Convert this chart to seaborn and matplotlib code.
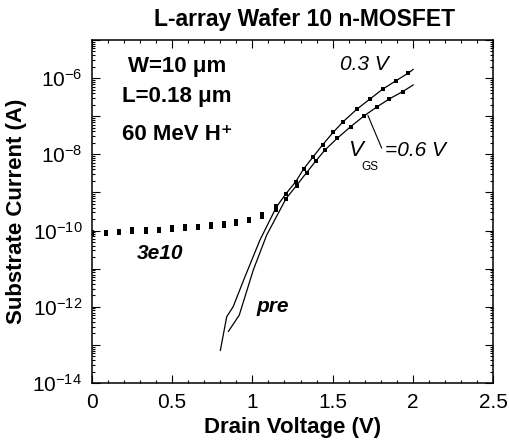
import numpy as np
import pandas as pd
import matplotlib
matplotlib.use("Agg")
import matplotlib.pyplot as plt
from matplotlib.ticker import LogLocator, MultipleLocator, FuncFormatter, NullFormatter
import seaborn as sns

# Drain voltage (V) and log10 of substrate current (A)
# after 3e10 cm^-2 exposure (markers)
post_03_v = [0.00, 0.085, 0.17, 0.25, 0.335, 0.42, 0.50, 0.58, 0.66, 0.74, 0.82, 0.90, 0.98,
             1.06, 1.15, 1.21, 1.27, 1.32, 1.376, 1.438, 1.504, 1.567, 1.65, 1.733, 1.812,
             1.895, 1.972]
post_03_log = [-10.04, -10.03, -10.00, -9.97, -9.97, -9.95, -9.92, -9.89, -9.87, -9.84, -9.81,
               -9.76, -9.70, -9.56, -9.36, -9.03, -8.72, -8.38, -8.08, -7.75, -7.42, -7.14,
               -6.82, -6.55, -6.29, -6.07, -5.87]
post_06_v = [0.00, 0.085, 0.17, 0.25, 0.335, 0.42, 0.50, 0.58, 0.66, 0.74, 0.82, 0.90, 0.98,
             1.06, 1.15, 1.21, 1.275, 1.338, 1.397, 1.453, 1.529, 1.613, 1.696, 1.779, 1.854,
             1.937]
post_06_log = [-10.10, -10.09, -10.06, -10.03, -10.03, -10.01, -9.98, -9.95, -9.93, -9.90, -9.87,
               -9.82, -9.76, -9.65, -9.47, -9.16, -8.82, -8.48, -8.165, -7.885, -7.578, -7.273,
               -6.992, -6.748, -6.546, -6.354]

# pre-irradiation curves (lines)
pre_03_v = [0.80, 0.84, 0.88, 0.954, 1.047, 1.15, 1.21, 1.27, 1.32, 1.376, 1.438, 1.504, 1.567,
            1.65, 1.733, 1.812, 1.895, 1.972, 2.003]
pre_03_log = [-13.15, -12.26, -12.00, -11.21, -10.25, -9.38, -9.03, -8.72, -8.38, -8.08, -7.75,
              -7.42, -7.14, -6.82, -6.55, -6.29, -6.07, -5.87, -5.77]
pre_06_v = [0.85, 0.918, 1.006, 1.089, 1.21, 1.275, 1.338, 1.397, 1.453, 1.529, 1.613, 1.696,
            1.779, 1.854, 1.937, 2.003]
pre_06_log = [-12.65, -12.22, -11.03, -10.12, -9.16, -8.82, -8.48, -8.165, -7.885, -7.578, -7.273,
              -6.992, -6.748, -6.546, -6.354, -6.18]

x_ticks = [0, 0.5, 1, 1.5, 2, 2.5]
x_tick_labels = ["0", "0.5", "1", "1.5", "2", "2.5"]

post_df = pd.concat([
    pd.DataFrame({"V": post_03_v, "I": 10.0 ** np.array(post_03_log), "vgs": "0.3"}),
    pd.DataFrame({"V": post_06_v, "I": 10.0 ** np.array(post_06_log), "vgs": "0.6"}),
])
pre_df = pd.concat([
    pd.DataFrame({"V": pre_03_v, "I": 10.0 ** np.array(pre_03_log), "vgs": "0.3"}),
    pd.DataFrame({"V": pre_06_v, "I": 10.0 ** np.array(pre_06_log), "vgs": "0.6"}),
])

sns.set_style("ticks")
plt.rcParams["font.family"] = ["Liberation Sans", "DejaVu Sans"]
plt.rcParams["mathtext.fontset"] = "custom"
plt.rcParams["mathtext.rm"] = "Liberation Sans"
plt.rcParams["mathtext.it"] = "Liberation Sans:italic"
plt.rcParams["mathtext.bf"] = "Liberation Sans:bold"
plt.rcParams["axes.unicode_minus"] = False
plt.rcParams["text.color"] = "black"
plt.rcParams["axes.labelcolor"] = "black"
plt.rcParams["xtick.color"] = "black"
plt.rcParams["ytick.color"] = "black"

fig = plt.figure(figsize=(5.09, 4.46), dpi=100)
ax = fig.add_axes([0.1807, 0.1413, 0.7879, 0.7691])

sns.lineplot(data=pre_df, x="V", y="I", units="vgs", estimator=None, sort=False,
             color="black", linewidth=0.9, ax=ax)
sns.scatterplot(data=post_df, x="V", y="I", color="black", marker="s", s=11,
                edgecolor="black", linewidth=0, ax=ax, zorder=3)

ax.set_yscale("log")
ax.set_xlim(0, 2.5)
ax.set_ylim(1e-14, 1e-5)

ax.set_xticks(x_ticks)
ax.set_xticklabels(x_tick_labels)
ax.xaxis.set_minor_locator(MultipleLocator(0.1))
ax.yaxis.set_major_locator(LogLocator(base=10, numticks=20))
ax.yaxis.set_minor_locator(LogLocator(base=10, subs=np.arange(2, 10), numticks=20))
ax.yaxis.set_minor_formatter(NullFormatter())


def decade_label(val, pos):
    e = int(round(np.log10(val)))
    return r"$10^{%d}$" % e if e % 2 == 0 else ""


ax.yaxis.set_major_formatter(FuncFormatter(decade_label))

ax.tick_params(which="both", direction="in", top=True, right=True, width=0.8, colors="black")
ax.tick_params(which="major", length=5.5, labelsize=15, pad=7)
ax.tick_params(which="minor", length=2.5)
for sp in ax.spines.values():
    sp.set_linewidth(1.1)
    sp.set_color("black")

ax.set_xlabel("Drain Voltage (V)", fontsize=16, fontweight="bold", labelpad=4)
ax.set_ylabel("Substrate Current (A)", fontsize=16, fontweight="bold", labelpad=4)
ax.set_title("L-array Wafer 10 n-MOSFET", fontsize=16.5, fontweight="bold", pad=10, x=0.531)

ax.text(0.090, 0.924, "W=10 μm", transform=ax.transAxes, fontsize=16, fontweight="bold",
        ha="left", va="center")
ax.text(0.075, 0.834, "L=0.18 μm", transform=ax.transAxes, fontsize=16, fontweight="bold",
        ha="left", va="center")
ax.text(0.075, 0.723, "60 MeV H⁺", transform=ax.transAxes, fontsize=16, fontweight="bold",
        ha="left", va="center")
ax.text(0.680, 0.929, "0.3 V", transform=ax.transAxes, fontsize=15, fontstyle="italic",
        ha="center", va="center")
ax.text(0.658, 0.679, "V", transform=ax.transAxes, fontsize=16, fontstyle="italic",
        ha="center", va="center")
ax.text(0.693, 0.631, "GS", transform=ax.transAxes, fontsize=8.5,
        ha="center", va="center")
ax.text(0.731, 0.678, "=0.6 V", transform=ax.transAxes, fontsize=15, fontstyle="italic",
        ha="left", va="center")
ax.text(0.171, 0.378, "3e10", transform=ax.transAxes, fontsize=15, fontweight="bold",
        fontstyle="italic", ha="center", va="center")
ax.text(0.450, 0.223, "pre", transform=ax.transAxes, fontsize=15, fontweight="bold",
        fontstyle="italic", ha="center", va="center")

# leader from the V_GS label to the 0.6 V curve
ax.annotate("", xy=(1.72, 1.05e-7), xytext=(1.806, 1.45e-8),
            arrowprops=dict(arrowstyle="-", color="black", lw=0.8, shrinkA=0, shrinkB=0))

fig.savefig("out.png", dpi=100)
